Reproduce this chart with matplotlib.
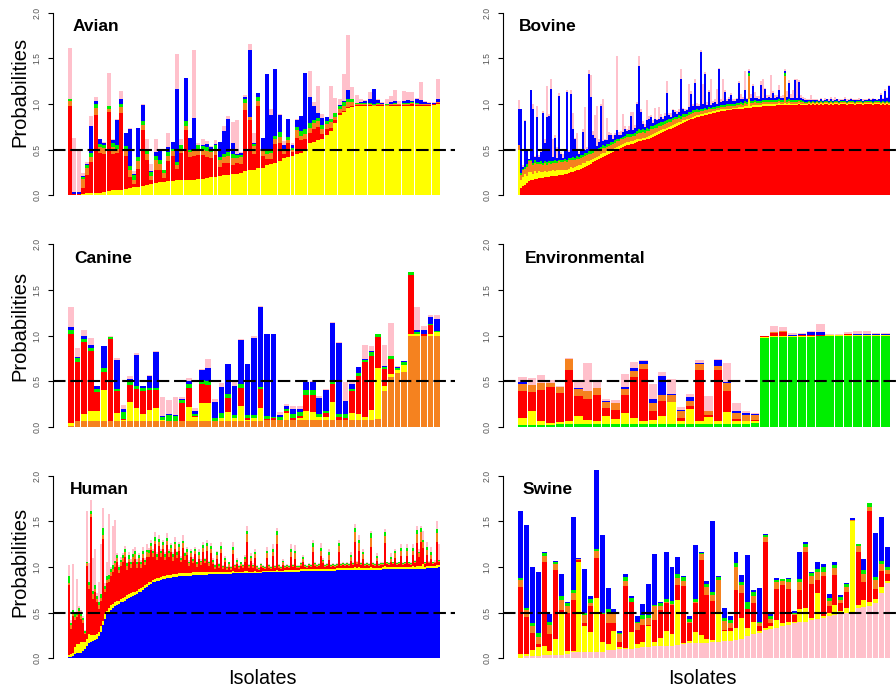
import numpy as np
import matplotlib
matplotlib.use('Agg')
import matplotlib.pyplot as plt

plt.rcParams['font.family'] = ['Liberation Sans', 'DejaVu Sans']

sources = ['Avian', 'Bovine', 'Canine', 'Environmental', 'Human', 'Swine']
colors = {'Avian': '#FFFF00', 'Bovine': '#FF0000', 'Canine': '#F5821F',
          'Environmental': '#00EE00', 'Human': '#0000FF', 'Swine': '#FFC0CB'}

# ---- values in percent, one list per source, bars sorted by own-source probability ----
# Avian isolates
avian_av = [0,0,0,1,2,2,2,2,3,4, 5,6,6,7,8,9,9,10,11,12, 13,14,14,15,15,16,16,16,17,17,
            18,18,19,20,20,21,22,22,23,23, 24,26,27,28,30,30,33,34,35,37, 41,42,43,45,46,48,57,58,60,62,
            66,70,79,88,91,96,97,98,98,98, 98,98,98,98,98,98,98,98,98,98, 98,98,98,98,98,99,100]
avian_bo = [98,1,1,7,20,34,86,44,42,87, 40,40,84,36,12,3,20,61,28,5, 15,14,5,22,28,13,30,55,25,26,
            26,26,23,21,24,10,13,13,10,12, 10,67,55,17,68,13,7,6,21,20, 4,15,4,18,14,14,11,15,15,5,
            7,4,3,2,1,1,1,1,1,1, 1,0,1,1,0,1,1,1,1,1, 2,1,1,1,1,1,1]
avian_ca = [5,0,0,10,8,6,8,7,7,4, 8,5,7,7,8,4,8,6,6,4, 10,6,5,6,5,4,5,5,5,5,
            6,6,6,6,5,7,7,8,8,6, 8,8,4,9,5,5,5,6,5,7, 3,3,3,8,5,5,6,6,6,6,
            5,6,4,5,6,5,4,1,1,1, 1,1,1,1,1,1,1,1,1,1, 1,1,1,1,1,0,1]
avian_en = [2,0,0,2,3,4,4,3,3,3, 4,4,3,4,4,6,5,4,4,4, 5,5,3,4,3,3,4,5,3,3,
            5,4,5,3,6,4,3,4,4,3, 2,5,0,2,5,3,4,5,4,5, 2,4,2,4,5,5,5,3,4,4,
            3,3,4,3,4,3,3,1,1,1, 1,1,1,0,1,0,1,0,1,1, 1,1,0,0,0,0,0]
avian_hu = [1,2,2,1,1,30,3,5,2,0, 3,27,6,14,41,1,32,18,2,1, 4,9,1,6,7,81,0,48,13,34,
            0,1,3,3,1,16,25,37,12,1, 2,2,73,1,4,12,84,37,73,19, 5,19,3,7,17,62,29,16,5,8,
            5,1,0,1,1,10,0,0,1,2, 5,16,3,1,0,2,2,0,2,3, 1,4,4,2,1,1,3]
avian_sw = [56,60,48,3,2,11,5,1,1,36, 2,2,8,0,1,3,0,1,11,8, 15,1,0,15,0,38,6,0,0,74,
            2,7,3,1,4,0,6,3,23,37, 1,2,7,11,0,0,0,7,1,1, 4,1,2,2,0,0,28,4,30,4,
            0,36,17,7,30,61,14,9,3,1, 7,1,1,1,6,7,12,3,11,9, 10,2,20,1,1,1,22]

# Bovine isolates
bovine_bo = [0,8,10,11,13,15, 16,16,18,18,19,19, 19,20,20,20,21,21, 21,21,22,22,22,23,
             23,24,25,25,26,27, 28,29,30,31,32,33, 34,36,37,38,40,41, 42,43,44,45,46,47,
             49,50,51,52,53,54, 55,55,56,56,57,58, 59,59,60,60,61,62, 63,64,65,66,67,68,
             69,70,71,72,73,74, 75,76,77,78,79,80, 81,82,83,84,85,86, 86,87,87,88,88,89,
             89,90,90,91,91,92, 92,92,93,93,93,94, 94,94,95,95,95,96, 96,96,96,97,97,97,
             97,97,98,98,98,98, 98,98,98,99,99,99, 99,99,99,99,99,99, 99,99,100,99,99,99,
             99,100,99,100,99,100, 99,100,99,100,100,99, 100,99,100,100,99,100, 100,100,99,100,100,100,
             99,100,100,100,99,100, 100,100,100,99,100,100, 100,99,100,99,100,99]
bovine_av = [50,8,10,12,8,10, 9,7,8,6,7,6, 6,6,5,6,5,6, 5,6,5,6,5,5,
             5,5,6,5,5,5, 5,4,5,4,5,4, 4,4,4,4,3,4, 4,3,4,3,4,3,
             3,3,3,3,3,3, 3,3,3,3,3,3, 3,3,3,3,3,3, 3,3,3,3,3,3,
             3,3,3,3,3,3, 3,3,3,2,3,2, 2,2,2,2,2,2, 2,2,2,2,2,2,
             2,2,2,2,2,2, 2,2,2,2,2,2, 2,2,2,2,2,2, 2,10,2,2,2,2,
             2,2,2,2,2,2, 2,2,2,1,2,1, 1,2,1,2,1,1, 1,1,1,1,1,1,
             1,1,1,1,1,1, 1,1,1,1,1,1, 1,1,1,1,1,1, 1,1,1,1,1,1,
             1,1,1,1,1,1, 1,1,1,1,1,1, 1,1,1,1,1,1]
bovine_ca = [5,6,8,6,10,12, 12,10,9,10,8,9, 8,9,8,9,8,8, 9,8,10,8,9,9,
             8,9,8,9,8,8, 7,8,7,8,7,8, 7,6,7,6,6,6, 6,6,5,6,5,6,
             5,6,5,6,5,6, 6,6,5,6,5,6, 6,6,6,5,6,5, 6,5,6,5,6,5,
             5,5,5,5,4,5, 5,4,5,4,4,4, 4,4,4,4,4,3, 3,3,3,3,3,3,
             3,3,3,3,3,3, 3,3,3,3,3,2, 2,3,2,3,2,3, 2,25,3,2,3,2,
             2,2,2,2,2,2, 2,2,2,2,2,2, 2,30,2,2,2,2, 2,2,2,2,2,1,
             1,1,1,1,1,1, 1,1,1,1,1,1, 1,1,1,1,1,1, 1,1,1,1,1,1,
             1,1,1,1,1,1, 1,1,1,1,1,1, 1,1,1,1,1,1]
bovine_en = [0,2,1,2,3,2, 2,2,3,2,2,3, 2,2,3,2,3,2, 3,2,2,3,2,3,
             2,3,2,3,2,3, 2,3,2,3,2,3, 3,2,3,2,3,2, 3,2,3,2,3,2,
             3,2,3,2,3,2, 3,3,3,2,3,3, 4,3,4,3,4,3, 4,4,3,4,3,4,
             3,3,3,3,3,3, 3,3,3,3,3,3, 2,3,2,3,2,3, 2,3,2,3,2,3,
             2,2,2,2,2,2, 2,2,2,2,2,2, 2,2,2,2,2,2, 2,3,2,2,2,2,
             2,2,2,2,2,2, 2,2,2,2,2,2, 2,3,2,2,2,2, 2,2,1,2,1,1,
             1,1,1,1,1,1, 1,1,1,1,1,1, 1,1,1,1,1,1, 1,1,1,1,1,1,
             1,1,1,1,1,1, 1,1,1,1,1,1, 1,1,1,1,1,1]
bovine_hu = [40,70,2,50,15,1, 76,60,4,50,6,10, 55,20,50,50,80,5, 25,4,70,6,3,8,
             75,6,70,30,20,5, 3,4,25,3,5,85, 60,18,12,4,6,45, 4,6,4,10,8,3,
             6,10,4,3,5,8, 3,4,20,4,6,30, 70,20,5,4,8,10, 10,3,6,4,4,6,
             4,6,30,5,3,8, 5,3,3,40,5,3, 4,6,20,5,30,4, 5,62,6,37,4,16,
             3,4,5,2,40,3, 4,14,3,6,10,3, 3,4,22,3,4,12, 3,2,4,17,3,4,
             3,18,3,12,3,4, 3,8,3,4,10,3, 3,2,4,18,3,3, 22,3,20,3,3,2,
             2,1,2,1,2,1, 1,2,1,1,2,1, 2,1,1,2,1,1, 1,2,1,1,2,1,
             2,1,1,2,1,1, 1,2,1,3,2,1, 2,8,3,12,4,18]
bovine_sw = [9,0,2,1,2,0, 0,5,1,12,2,1, 2,4,34,2,10,20, 3,12,3,2,4,2,
             2,3,4,18,2,20, 2,1,3,48,2,4, 24,4,25,44,3,2, 46,2,25,3,2,5,
             2,82,3,4,20,3, 2,5,4,20,3,2, 11,4,3,3,22,4, 2,3,13,2,14,3,
             2,3,13,2,4,2, 2,3,3,12,2,3, 2,25,3,2,5,3, 2,2,22,2,3,2,
             28,2,3,17,2,3, 25,2,3,2,2,2, 2,2,2,6,3,21, 2,2,4,2,6,2,
             3,4,20,2,3,2, 25,2,3,2,6,2, 3,2,6,3,4,8, 2,21,2,3,2,3,
             2,1,6,1,2,2, 1,2,1,3,1,2, 3,2,4,1,3,2, 1,3,2,1,2,1,
             2,1,3,1,2,1, 1,2,1,2,1,2, 1,2,1,2,1,1]

# Canine isolates
canine_ca = [1,6,6,6,6,6,7,7,7,7, 7,7,7,7,7,7,7,7,7,7, 7,7,7,7,7,7,7,7,7,7,
             8,8,8,8,8,8,8,8,8,8, 8,8,8,8,8,8,8,9,39,55, 59,60,100,100,100,100,100]
canine_av = [3,0,8,12,12,34,0,8,1,20, 14,7,12,14,1,0,0,0,15,4, 19,19,0,3,9,3,16,1,3,14,
             0,0,0,7,0,2,10,8,3,3, 19,0,0,7,6,3,11,56,6,3, 3,8,2,2,0,2,4]
canine_bo = [98,65,79,65,20,20,89,24,1,19, 20,25,21,19,0,0,0,19,21,1, 21,20,0,0,16,0,20,2,0,20,
             1,2,0,2,2,2,17,19,0,4, 20,3,2,24,42,60,59,33,18,16, 0,0,64,0,2,10,0]
canine_en = [4,4,3,3,3,4,2,3,7,4, 4,4,3,3,3,6,5,3,4,2, 4,4,3,5,4,3,4,3,3,3,
             3,1,3,3,4,4,5,5,3,3, 3,3,4,3,3,2,4,4,3,4, 2,3,3,2,0,1,1]
canine_hu = [3,2,3,4,4,24,0,31,4,2, 34,2,13,39,1,1,1,2,3,4, 11,15,17,29,33,32,48,56,84,87,
             90,91,2,3,6,4,9,9,18,22, 64,78,14,5,7,1,1,0,1,0, 2,1,0,2,4,7,13]
canine_sw = [22,9,7,7,0,1,2,2,4,4, 2,0,1,1,21,16,20,2,4,3, 1,9,4,4,0,4,1,0,2,1,
             0,0,3,2,3,3,0,1,2,1, 1,1,21,4,0,16,5,0,23,36, 1,0,0,25,4,2,4]

# Environmental isolates
env_en = [2,2,2,2,3,3,3,3,3,3, 3,3,3,3,3,3,3,3,3,3, 3,3,3,3,3,4,97,98,98,98, 98,98,99,99,99,99,99,99,99,99]
env_av = [8,15,4,2,2,3,9,5,4,9, 6,12,7,4,5,9,24,4,17,4, 8,3,13,4,3,3,1,1,1,1, 2,2,1,2,2,2,2,2,2,2]
env_bo = [29,21,34,40,32,56,22,23,28,9, 10,20,45,56,10,16,0,3,3,55, 2,56,23,2,1,1,1,4,5,1, 1,1,1,0,0,1,0,0,0,0]
env_ca = [8,8,8,4,7,12,8,8,8,6, 7,7,6,6,8,7,8,7,5,7, 4,5,9,6,6,5,0,1,1,0, 0,0,0,0,0,0,0,0,0,0]
env_hu = [2,0,0,0,0,0,1,0,0,1, 0,2,4,3,5,21,1,2,5,1, 1,6,1,3,2,1,0,0,0,1, 1,3,3,0,0,0,1,1,1,1]
env_sw = [6,7,9,3,1,1,8,31,6,3, 4,14,6,1,16,4,16,3,3,3, 16,1,21,8,2,1,1,6,4,2, 1,1,9,1,1,2,3,3,1,1]

# Human isolates
human_hu = [1,1,2,4,5,5,6,8,10,13, 16,18,19,20,21,24,29,36,43,48, 51,53,55,57,58,59,61,62,63,65,
            66,67,68,69,70,72,73,75,77,78, 80,81,83,84,85,85,86,87,87,88, 88,88,89,89,89,90,90,90,90,90,
            90,90,91,91,91,91,91,91,91,91, 92,92,92,92,92,92,92,92,92,92, 92,92,93,93,93,93,93,93,93,93,
            93,93,93,93,93,93,93,94,94,94, 94,94,94,94,94,94,94,94,95,95, 95,95,95,95,95,95,96,96,96,96,
            96,96,96,96,96,96,96,96,96,96, 96,96,96,96,97,97,97,97,97,97, 97,97,97,97,97,97,97,97,97,97,
            97,97,97,97,97,97,97,98,98,98, 98,98,98,98,98,98,98,98,98,98, 98,98,98,98,98,98,98,98,98,99,
            99,99,99,99,99,100]
human_av = [2,3,4,8,10,10,12,10,8,8, 10,7,6,5,5,5,6,5,5,4, 4,5,4,5,5,4,4,4,4,4,
            4,4,4,4,4,4,4,3,3,3, 3,3,3,3,3,3,3,3,3,3, 3,3,3,3,3,3,3,3,3,3,
            3,3,3,3,3,3,3,3,3,3, 3,3,3,2,3,2,3,2,3,2, 2,2,3,2,2,2,2,2,3,3,
            2,2,2,3,2,2,2,2,2,2, 2,2,2,2,3,2,2,2,2,2, 2,2,2,2,2,2,2,2,2,2,
            2,2,2,2,2,2,2,2,2,2, 2,2,2,2,2,2,2,2,2,2, 2,2,2,3,2,3,2,2,2,2,
            2,3,2,2,2,2,2,2,3,2, 2,2,2,2,2,2,2,2,2,2, 2,2,3,2,3,3,3,5,2,2,
            2,2,2,2,3,2]
human_bo = [77,28,40,30,30,35,25,20,8,80, 50,130,40,48,35,25,28,90,25,30, 28,32,35,38,42,30,36,40,44,28,
            35,28,34,36,25,30,22,32,22,30, 28,35,25,38,20,35,22,30,18,33, 20,26,15,28,18,25,12,28,15,20,
            8,18,10,20,6,15,8,22,10,24, 6,20,8,4,14,5,20,4,10,3, 6,3,18,4,8,3,6,4,10,32,
            4,12,4,14,3,2,5,3,2,14, 3,2,16,3,28,3,2,6,2,3, 2,14,3,12,2,2,3,8,2,1,
            3,2,18,3,2,3,14,6,2,3, 10,2,3,2,2,18,2,3,2,3, 2,8,3,28,4,18,3,10,2,3,
            2,22,3,2,8,2,3,2,25,3, 2,6,3,10,2,3,12,2,3,12, 3,2,12,4,25,10,26,18,3,12,
            3,8,2,3,25,3]
human_ca = [2,4,4,3,2,2,3,4,2,3, 4,3,5,3,4,4,3,4,3,4, 4,5,4,4,5,4,4,4,5,4,
            4,4,5,5,4,4,4,4,3,5, 4,4,4,4,3,5,4,4,3,5, 4,4,4,5,3,4,3,5,4,4,
            3,4,3,4,3,4,3,5,3,5, 3,5,3,2,4,2,5,2,3,2, 3,2,5,2,3,2,2,2,3,8,
            2,3,2,4,2,1,2,1,1,5, 2,1,5,1,10,2,1,3,1,1, 1,6,1,6,1,1,2,3,1,1,
            1,1,6,2,1,1,6,3,1,1, 5,1,1,1,1,6,1,1,1,1, 1,4,1,10,2,8,1,5,1,1,
            1,10,1,1,3,1,1,1,8,1, 1,3,1,5,1,1,6,1,1,6, 1,1,5,2,10,4,12,6,1,6,
            1,4,1,1,10,2]
human_en = [8,2,3,3,2,3,4,2,2,2, 4,4,4,4,3,3,4,8,3,4, 4,3,4,3,3,3,3,3,4,3,
            4,3,3,4,3,3,3,4,3,3, 4,3,3,4,3,3,3,3,3,3, 3,3,3,3,3,3,2,3,3,3,
            2,3,2,2,2,3,2,3,2,3, 2,3,2,2,3,2,3,1,2,1, 2,1,3,1,2,1,2,1,2,4,
            1,2,1,2,1,1,1,1,1,3, 1,1,3,1,5,1,1,2,1,1, 1,3,1,3,1,1,1,2,1,1,
            1,1,4,1,1,1,3,1,1,1, 3,1,1,1,1,3,1,1,1,1, 1,2,1,5,1,4,1,3,1,1,
            1,5,1,1,2,1,1,1,4,1, 1,2,1,3,1,1,3,1,1,3, 1,1,3,1,5,2,4,3,1,3,
            1,3,1,1,5,1]
human_sw = [12,4,50,2,38,2,3,2,1,55, 20,12,36,40,3,22,55,22,3,15, 67,2,43,45,2,2,3,2,3,2,
            3,3,6,4,3,2,2,4,2,6, 2,4,2,5,2,4,2,3,2,5, 2,2,2,5,2,3,2,6,2,2,
            2,2,2,2,1,4,2,3,1,4, 1,3,2,1,2,1,5,1,2,1, 1,1,5,1,2,1,1,1,2,5,
            1,3,2,4,1,1,1,1,1,4, 1,1,5,1,3,1,1,2,1,1, 1,5,1,6,1,1,1,2,1,1,
            1,1,4,1,1,1,5,2,1,1, 4,1,1,1,1,4,1,1,1,1, 1,4,1,4,1,5,1,3,1,1,
            1,3,1,1,3,1,1,1,4,1, 1,4,1,2,1,1,4,1,1,4, 1,1,4,1,4,3,2,10,1,6,
            1,6,1,2,8,17]

# Swine isolates
swine_sw = [0,2,2,2,3,3,3,3,4,7, 7,7,7,7,7,9,9,10,10,10, 11,12,12,13,13,13,13,14,15,16,
            16,16,17,18,18,19,19,20,21,24, 26,28,31,32,33,35,36,38,40,40, 42,43,44,46,47,48,50,50,55,56,
            57,60,71,82]
swine_av = [4,2,7,10,10,5,18,48,4,1, 99,28,22,59,11,6,21,2,1,19, 4,6,23,5,9,17,13,50,2,3,
            13,9,4,2,31,11,11,13,23,9, 14,2,2,3,9,3,4,2,14,15, 2,28,2,4,11,4,5,100,3,8,
            4,5,7,3]
swine_bo = [74,41,19,3,92,18,76,2,41,56, 2,3,28,44,30,24,9,6,68,32, 16,18,1,24,31,30,32,16,62,20,
            31,83,48,43,1,1,3,42,27,21, 20,5,94,3,34,42,36,7,21,61, 37,15,44,7,33,8,17,1,59,19,
            100,11,18,7]
swine_ca = [8,8,7,8,7,10,6,11,8,7, 1,9,3,8,0,11,10,8,6,1, 7,7,8,15,4,1,1,8,6,1,
            1,6,9,6,36,10,6,25,9,0, 8,3,6,5,7,5,8,1,9,6, 9,8,4,6,8,4,6,1,6,9,
            5,10,7,5]
swine_en = [2,2,4,4,3,4,3,4,3,4, 0,3,5,2,2,4,2,1,4,4, 2,4,3,1,3,4,4,4,4,3,
            4,1,3,3,3,3,3,4,4,7, 4,2,2,3,3,2,3,2,3,3, 3,4,6,3,3,3,3,0,2,5,
            4,3,4,3]
swine_hu = [73,91,61,67,2,8,1,24,1,80, 1,48,3,87,85,23,3,3,3,2, 6,12,34,56,1,52,37,19,1,3,
            59,2,4,78,1,11,4,13,7,52, 3,37,1,2,2,0,1,2,30,3, 2,7,3,4,3,2,1,2,0,12,
            0,48,48,22]

panels = [
    ('Avian', {'Avian': avian_av, 'Bovine': avian_bo, 'Canine': avian_ca,
               'Environmental': avian_en, 'Human': avian_hu, 'Swine': avian_sw}),
    ('Bovine', {'Avian': bovine_av, 'Bovine': bovine_bo, 'Canine': bovine_ca,
                'Environmental': bovine_en, 'Human': bovine_hu, 'Swine': bovine_sw}),
    ('Canine', {'Avian': canine_av, 'Bovine': canine_bo, 'Canine': canine_ca,
                'Environmental': canine_en, 'Human': canine_hu, 'Swine': canine_sw}),
    ('Environmental', {'Avian': env_av, 'Bovine': env_bo, 'Canine': env_ca,
                       'Environmental': env_en, 'Human': env_hu, 'Swine': env_sw}),
    ('Human', {'Avian': human_av, 'Bovine': human_bo, 'Canine': human_ca,
               'Environmental': human_en, 'Human': human_hu, 'Swine': human_sw}),
    ('Swine', {'Avian': swine_av, 'Bovine': swine_bo, 'Canine': swine_ca,
               'Environmental': swine_en, 'Human': swine_hu, 'Swine': swine_sw}),
]
bar_width = {'Avian': 0.93, 'Bovine': 1.0, 'Canine': 0.86, 'Environmental': 0.9,
             'Human': 1.0, 'Swine': 0.85}

W, H = 896, 689
fig = plt.figure(figsize=(W / 100, H / 100), dpi=100)

# plot regions in pixels: (left, right) and (top, bottom)
col_x = [(53, 455), (503, 905)]
row_y = [(5.7, 202.3), (236.7, 434.3), (468.7, 665.3)]
title_pos = [(73, 30.7), (519, 30.7), (74, 263.3), (525, 263.3), (70, 494), (523, 494)]

for k, (name, data) in enumerate(panels):
    r, c = divmod(k, 2)
    x0, x1 = col_x[c]
    yt, yb = row_y[r]
    ax = fig.add_axes([x0 / W, 1 - yb / H, (x1 - x0) / W, (yb - yt) / H])
    ax.patch.set_visible(False)

    order = [name] + [s for s in sources if s != name]
    n = len(data[name])
    bw = bar_width[name]
    xs = np.arange(n) + (1 - bw) / 2
    base = np.zeros(n)
    for s in order:
        v = np.array(data[s], dtype=float) / 100
        ax.bar(xs, v, width=bw, bottom=base, color=colors[s], align='edge', linewidth=0)
        base += v

    ax.axhline(0.5, color='black', lw=1.5, ls=(0, (6, 2.3)), zorder=5)
    ax.set_xlim(-0.04 * n, 1.04 * n)
    ax.set_ylim(-0.08, 2.08)
    for sp in ['top', 'right', 'bottom']:
        ax.spines[sp].set_visible(False)
    ax.spines['left'].set_bounds(0, 2)
    ax.spines['left'].set_linewidth(0.8)
    ax.set_xticks([])
    ax.set_yticks([0, 0.5, 1, 1.5, 2])
    ax.set_yticklabels(['0.0', '0.5', '1.0', '1.5', '2.0'], rotation=90,
                       va='center', fontsize=6.2, color='#555555')
    ax.tick_params(axis='y', length=3.6, width=0.8, pad=4.5)

    tx, ty = title_pos[k]
    fig.text(tx / W, 1 - ty / H, name, fontsize=12.5, fontweight='bold',
             ha='left', va='baseline')

for cy in [92, 326, 562]:
    fig.text(19.5 / W, 1 - cy / H, 'Probabilities', rotation=90, fontsize=14.5,
             ha='center', va='center')
for cx in [262, 702.5]:
    fig.text(cx / W, 1 - 684 / H, 'Isolates', fontsize=14.2, ha='center', va='baseline')

fig.savefig('out.png', dpi=100)
